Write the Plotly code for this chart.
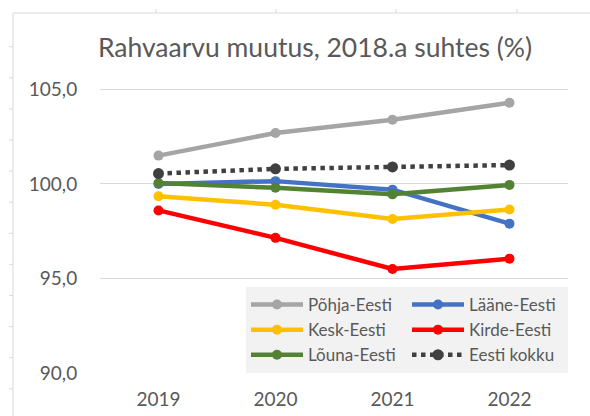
import plotly.graph_objects as go

years = [2019, 2020, 2021, 2022]
year_labels = ["2019", "2020", "2021", "2022"]

series_names = ["Põhja-Eesti", "Lääne-Eesti", "Kesk-Eesti", "Kirde-Eesti", "Lõuna-Eesti", "Eesti kokku"]
pohja = [101.5, 102.7, 103.4, 104.3]
laane = [100.0, 100.15, 99.7, 97.9]
kesk = [99.35, 98.9, 98.15, 98.65]
kirde = [98.6, 97.15, 95.5, 96.05]
louna = [100.05, 99.8, 99.45, 99.95]
kokku = [100.55, 100.8, 100.9, 101.0]

y_ticks = [90, 95, 100, 105]

colors = ["#a5a5a5", "#4472c4", "#ffc000", "#ff0000", "#548235", "#404040"]
values = [pohja, laane, kesk, kirde, louna, kokku]

W, H = 590, 416
L, R, T, B = 100, 22, 80, 43
pw, ph = W - L - R, H - T - B

def px(x):
    return (x - L) / pw

def py(y):
    return (H - B - y) / ph

fig = go.Figure()
for name, vals, col in zip(series_names, values, colors):
    dotted = name == "Eesti kokku"
    fig.add_trace(go.Scatter(
        x=years, y=vals, name=name, mode="lines+markers",
        line=dict(color=col, width=4.5, dash="dot" if dotted else "solid"),
        marker=dict(color=col, size=11 if dotted else 10),
        cliponaxis=False,
    ))

font_col = "#595959"
shapes = []
grid_col = "#d9d9d9"
# spreadsheet cell border decoration
shapes.append(dict(type="line", xref="paper", yref="paper", x0=px(13), x1=px(13), y0=py(13), y1=py(416),
                   line=dict(color=grid_col, width=1)))
shapes.append(dict(type="line", xref="paper", yref="paper", x0=px(13), x1=px(590), y0=py(13), y1=py(13),
                   line=dict(color=grid_col, width=1)))
for tx in [156, 276, 396, 517]:
    shapes.append(dict(type="line", xref="paper", yref="paper", x0=px(tx), x1=px(tx), y0=py(9), y1=py(13),
                       line=dict(color=grid_col, width=1)))
for k in range(12):
    ty = 46.7 + 31.1 * k
    shapes.append(dict(type="line", xref="paper", yref="paper", x0=px(9), x1=px(13), y0=py(ty), y1=py(ty),
                       line=dict(color=grid_col, width=1)))

fig.update_layout(
    width=W, height=H,
    margin=dict(l=L, r=R, t=T, b=B, autoexpand=False),
    paper_bgcolor="white", plot_bgcolor="white",
    separators=", ",
    font=dict(family="Lato", color=font_col, size=18),
    title=dict(text="Rahvaarvu muutus, 2018.a suhtes (%)", x=315 / W, xanchor="center",
               y=1 - 48 / H, yanchor="middle", font=dict(size=26.5, color=font_col, family="Lato")),
    xaxis=dict(range=[2018.5, 2022.5], tickvals=years, ticktext=year_labels, showgrid=False,
               zeroline=False, showline=False, ticks="outside", ticklen=9, tickcolor="rgba(0,0,0,0)",
               tickfont=dict(size=19, color=font_col), automargin=False),
    yaxis=dict(range=[90, 105.5], tickvals=y_ticks, tickformat=".1f", showgrid=True, gridcolor=grid_col,
               gridwidth=1, zeroline=False, showline=False, ticks="outside", ticklen=18,
               tickcolor="rgba(0,0,0,0)", tickfont=dict(size=19, color=font_col), automargin=False),
    legend=dict(orientation="h", x=1, xanchor="right", y=0, yanchor="bottom",
                bgcolor="#f2f2f2", entrywidth=94, entrywidthmode="pixels", itemwidth=52,
                font=dict(size=17, color=font_col), tracegroupgap=0, traceorder="normal"),
    shapes=shapes,
    showlegend=True,
)

fig.write_html("out.html", config={"displayModeBar": False},
               post_script="document.body.style.margin='0';document.body.style.overflow='hidden';")
